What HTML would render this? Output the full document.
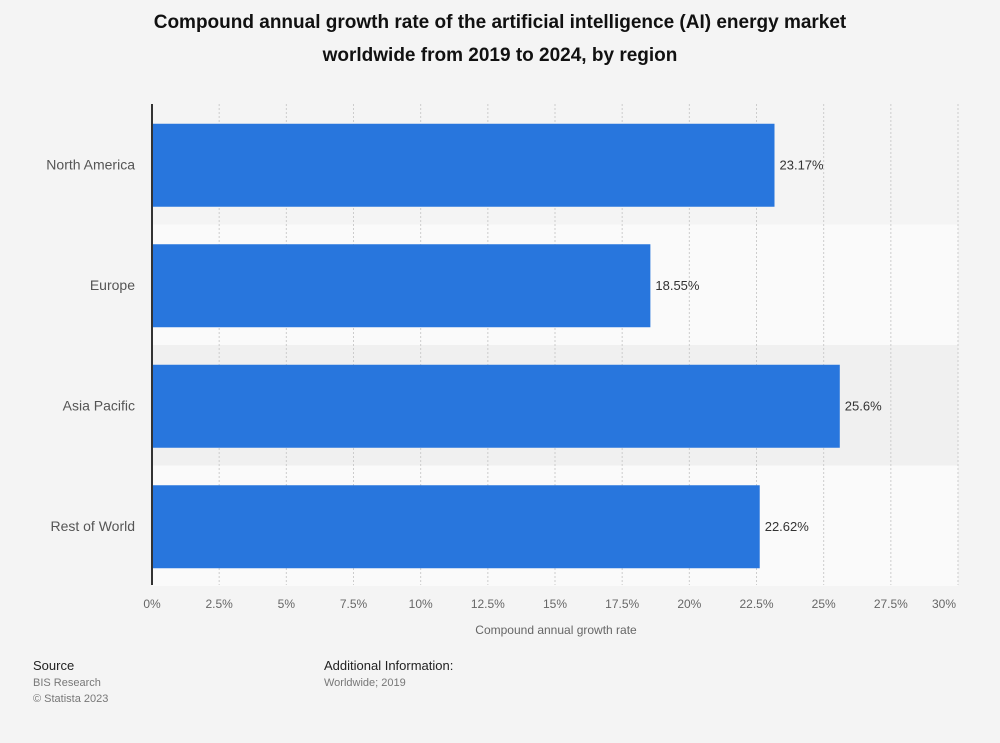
<!DOCTYPE html>
<html><head><meta charset="utf-8"><style>
body{margin:0;background:#f4f4f4;font-family:"Liberation Sans",Arial,sans-serif;}
#wrap{position:relative;width:1000px;height:743px;overflow:hidden;}
</style></head><body><div id="wrap">
<svg id="chart" width="1000" height="743">
<text x="500" y="28" text-anchor="middle" font-size="19" font-weight="bold" fill="#111">Compound annual growth rate of the artificial intelligence (AI) energy market</text>
<text x="500" y="61" text-anchor="middle" font-size="19" font-weight="bold" fill="#111">worldwide from 2019 to 2024, by region</text>
<g id="bands"></g><g id="grid"></g><g id="bars"></g><g id="labels"></g><g id="ticks"></g>
<line x1="152" y1="104" x2="152" y2="585" stroke="#333" stroke-width="2"/>
<text x="556" y="634" text-anchor="middle" font-size="12" fill="#666">Compound annual growth rate</text>
<text x="33" y="670" font-size="13" fill="#222">Source</text>
<text x="33" y="686" font-size="11" fill="#777">BIS Research</text>
<text x="33" y="702" font-size="11" fill="#777">© Statista 2023</text>
<text x="324" y="670" font-size="13" fill="#222">Additional Information:</text>
<text x="324" y="686" font-size="11" fill="#777">Worldwide; 2019</text>
</svg>
<script>
const categories=["North America","Europe","Asia Pacific","Rest of World"];
const values=[23.17,18.55,25.6,22.62];
const valueLabels=["23.17%","18.55%","25.6%","22.62%"];
const tickValues=[0,2.5,5,7.5,10,12.5,15,17.5,20,22.5,25,27.5,30];
const tickLabels=["0%","2.5%","5%","7.5%","10%","12.5%","15%","17.5%","20%","22.5%","25%","27.5%","30%"];
const NS="http://www.w3.org/2000/svg";
const x0=152,x1=958,plotTop=104,bandH=120.5,barH=83;
function xs(v){return x0+(v/30)*(x1-x0);}
function mk(tag,attrs,parent){const e=document.createElementNS(NS,tag);for(const k in attrs)e.setAttribute(k,attrs[k]);document.getElementById(parent).appendChild(e);return e;}
const bandColors=["#f4f4f4","#fafafa","#f0f0f0","#fafafa"];
categories.forEach((c,i)=>{
 const b=mk("rect",{x:x0,y:plotTop+i*bandH,width:x1-x0,height:bandH,fill:bandColors[i%4]},"bands");
 
 
});
tickValues.forEach((t,i)=>{
 if(i>0){const g=mk("line",{x1:xs(t),x2:xs(t),y1:plotTop,y2:585,stroke:"#ccc","stroke-dasharray":"2,2"},"grid");
 
 }
 const last=i===tickValues.length-1;
 const tl=mk("text",{x:last?xs(t)-14:xs(t),y:608,"text-anchor":"middle","font-size":12,fill:"#666"},"ticks");
 tl.textContent=tickLabels[i];
 
 
});
categories.forEach((c,i)=>{
 const cy=plotTop+i*bandH+bandH/2;
 const r=mk("rect",{x:x0,y:cy-barH/2+1,width:xs(values[i])-x0,height:barH,fill:"#2876dd"},"bars");
 
 
 const v=mk("text",{x:xs(values[i])+5,y:cy+5,"font-size":13,fill:"#333"},"labels");
 v.textContent=valueLabels[i];
 
 
 const cl=mk("text",{x:135,y:cy+5,"text-anchor":"end","font-size":14,fill:"#555"},"labels");
 cl.textContent=c;
 
 
});
</script>
</div></body></html>
